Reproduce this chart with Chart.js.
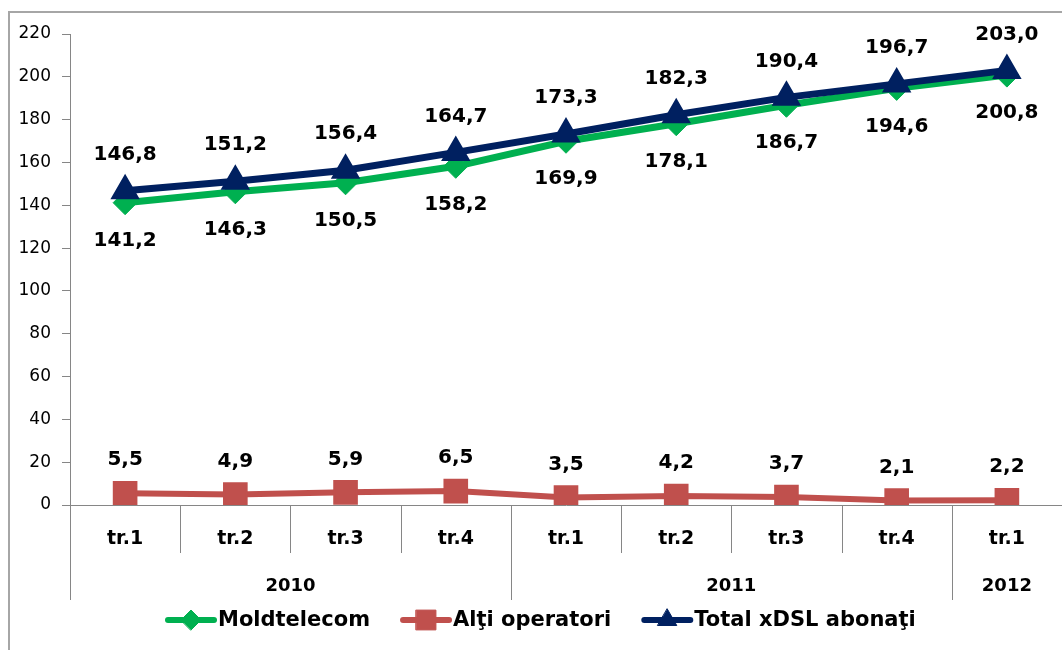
<!DOCTYPE html>
<html>
<head>
<meta charset="utf-8">
<script src="https://cdn.jsdelivr.net/npm/chart.js@4/dist/chart.umd.min.js"></script>
<style>
  body { margin: 0; background: #fff; overflow: hidden; }
  #wrap { width: 1080px; height: 650px; }
</style>
</head>
<body>
<div id="wrap"><canvas id="xdsl" width="1080" height="650"></canvas></div>
<script>
const quarters = ["tr.1", "tr.2", "tr.3", "tr.4", "tr.1", "tr.2", "tr.3", "tr.4", "tr.1"];
const years = ["2010", "2011", "2012"];
const yearSpans = [4, 4, 1];

const moldtelecom = [141.2, 146.3, 150.5, 158.2, 169.9, 178.1, 186.7, 194.6, 200.8];
const altiOperatori = [5.5, 4.9, 5.9, 6.5, 3.5, 4.2, 3.7, 2.1, 2.2];
const totalXdsl = [146.8, 151.2, 156.4, 164.7, 173.3, 182.3, 190.4, 196.7, 203.0];

const yTicks = [0, 20, 40, 60, 80, 100, 120, 140, 160, 180, 200, 220];

const FONT = "'DejaVu Sans', sans-serif";
const AXIS = "#868686";

function fmt(v) {
  return v.toFixed(1).replace(".", ",");
}

// frame, two-level category axis, value labels and legend (Excel look)
const excelLook = {
  id: "excelLook",
  afterDraw(chart) {
    const { ctx, chartArea: area, scales: { x } } = chart;
    ctx.save();

    ctx.strokeStyle = "#a6a6a6";
    ctx.lineWidth = 2;
    ctx.strokeRect(9, 12, chart.width + 20, chart.height + 20);

    // category separators
    const step = x.getPixelForValue(1) - x.getPixelForValue(0);
    const left = x.getPixelForValue(0) - step / 2;
    const yearEdges = [0];
    yearSpans.forEach((s) => yearEdges.push(yearEdges[yearEdges.length - 1] + s));
    ctx.strokeStyle = AXIS;
    ctx.lineWidth = 1;
    for (let i = 0; i <= quarters.length; i++) {
      const px = Math.round(left + i * step) + 0.5;
      const len = yearEdges.includes(i) ? 95 : 48;
      ctx.beginPath();
      ctx.moveTo(px, area.bottom);
      ctx.lineTo(px, area.bottom + len);
      ctx.stroke();
    }

    // year labels
    ctx.fillStyle = "#000";
    ctx.font = "bold 18px " + FONT;
    ctx.textAlign = "center";
    ctx.textBaseline = "middle";
    years.forEach((yr, i) => {
      const mid = left + ((yearEdges[i] + yearEdges[i + 1]) / 2) * step;
      ctx.fillText(yr, mid, area.bottom + 81);
    });

    // value labels
    ctx.font = "bold 20px " + FONT;
    chart.data.datasets.forEach((ds, di) => {
      chart.getDatasetMeta(di).data.forEach((pt, i) => {
        ctx.fillText(fmt(ds.data[i]), pt.x, pt.y + ds.labelOffset);
      });
    });

    // legend
    ctx.font = "bold 21px " + FONT;
    ctx.textAlign = "left";
    let sx = 168;
    const ly = 620;
    chart.data.datasets.forEach((ds) => {
      ctx.strokeStyle = ds.borderColor;
      ctx.lineWidth = 6;
      ctx.lineCap = "round";
      ctx.beginPath();
      ctx.moveTo(sx, ly);
      ctx.lineTo(sx + 46, ly);
      ctx.stroke();
      ctx.fillStyle = ds.borderColor;
      ctx.lineWidth = 1;
      Chart.helpers.drawPoint(ctx, {
        pointStyle: ds.pointStyle,
        radius: ds.legendRadius,
        rotation: 0,
        borderWidth: 1
      }, sx + 23, ly);
      ctx.fillStyle = "#000";
      ctx.fillText(ds.label, sx + 50, ly + 1);
      sx += 50 + ctx.measureText(ds.label).width + 33;
    });

    ctx.restore();
  }
};

new Chart(document.getElementById("xdsl"), {
  type: "line",
  data: {
    labels: quarters,
    datasets: [
      {
        label: "Moldtelecom",
        data: moldtelecom,
        borderColor: "#00b050",
        backgroundColor: "#00b050",
        borderWidth: 7,
        pointStyle: "rectRot",
        pointRadius: 12,
        pointBorderWidth: 1,
        order: 1,
        labelOffset: 38,
        legendRadius: 10
      },
      {
        label: "Alţi operatori",
        data: altiOperatori,
        borderColor: "#c0504d",
        backgroundColor: "#c0504d",
        borderWidth: 6,
        pointStyle: "rect",
        pointRadius: 16,
        pointBorderWidth: 2,
        order: 2,
        labelOffset: -33,
        legendRadius: 14
      },
      {
        label: "Total xDSL abonaţi",
        data: totalXdsl,
        borderColor: "#002060",
        backgroundColor: "#002060",
        borderWidth: 7,
        pointStyle: "triangle",
        pointRadius: 15,
        pointBorderWidth: 2,
        order: 0,
        labelOffset: -36,
        legendRadius: 11
      }
    ]
  },
  options: {
    responsive: false,
    animation: false,
    layout: { padding: { left: 8, top: 34, right: 11, bottom: 45 } },
    elements: { line: { tension: 0 } },
    plugins: {
      legend: { display: false },
      tooltip: { enabled: false }
    },
    scales: {
      x: {
        offset: true,
        grid: { display: false },
        border: { display: true, color: AXIS, width: 1 },
        ticks: {
          color: "#000",
          padding: 15,
          maxRotation: 0,
          font: { family: FONT, size: 19, weight: "bold" }
        },
        afterFit(scale) { scale.height = 100; }
      },
      y: {
        min: 0,
        max: 220,
        afterBuildTicks(scale) { scale.ticks = yTicks.map((v) => ({ value: v })); },
        grid: { drawOnChartArea: false, tickLength: 8, color: AXIS },
        border: { display: true, color: AXIS, width: 1 },
        ticks: {
          color: "#000",
          padding: 11,
          font: { family: FONT, size: 17 }
        },
        afterFit(scale) { scale.width = 62; }
      }
    }
  },
  plugins: [excelLook]
});
</script>
</body>
</html>
